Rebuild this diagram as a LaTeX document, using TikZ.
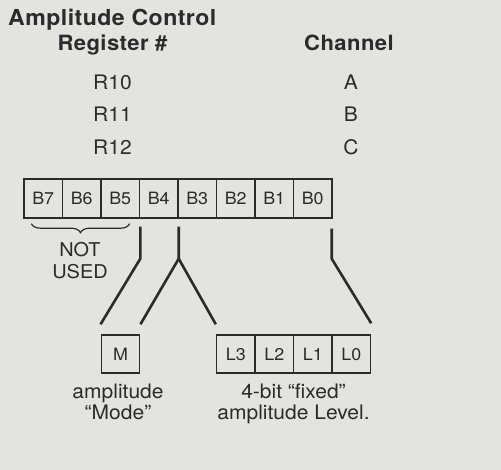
\documentclass[tikz,border=0pt]{standalone}
\usepackage{fontspec}
\setmainfont{TeX Gyre Heros}[FakeStretch=1.05]
\newfontfamily\headfont{texgyreheros-bold.otf}[FakeStretch=1.05,LetterSpace=2]
\usepackage{xcolor}
\usepackage{tikz}
\usetikzlibrary{positioning,calc,decorations.pathreplacing}
\definecolor{paper}{HTML}{E3E3DF}
\definecolor{ink}{HTML}{2B2B2B}

\begin{document}
\begin{tikzpicture}[
  x=1pt,y=-1pt,
  head/.style={font=\fontsize{21}{24}\headfont,text=ink,anchor=base,inner sep=0pt},
  txt/.style={font=\fontsize{20}{21}\selectfont,text=ink,inner sep=0pt,align=center,anchor=base},
  bitbox/.style={rectangle,draw=ink,line width=1.4pt,minimum width=38.5pt,minimum height=39pt,inner sep=0pt,font=\fontsize{17}{18}\selectfont,text=ink},
  wire/.style={draw=ink,line width=2.6pt}
]
\useasboundingbox[fill=paper] (0,0) rectangle (501,470);

% Headings
\node[head,anchor=base west,font=\fontsize{22}{24}\headfont] (title) at (8,26) {Amplitude Control};
\node[head] (reghd) at (112.5,51) {Register \#};
\node[head] (chhd)  at (349,51)   {Channel};

% Registers and channels
\foreach \r/\c [count=\k] in {R10/A,R11/B,R12/C}{
  \node[txt] (r\k) at (112.5,57+32.5*\k) {\r};
  \node[txt] (c\k) at (351,57+32.5*\k) {\c};
}

% Register bits
\foreach \i in {0,...,7}{
  \pgfmathtruncatemacro{\bit}{7-\i}
  \node[bitbox] (b\bit) at (24+38.5*\i+19.25,198.5) {B\bit};
}

% Mode and level bits
\node[bitbox,minimum height=38pt] (m) at (120.5,354) {M};
\foreach \i in {0,...,3}{
  \pgfmathtruncatemacro{\lev}{3-\i}
  \node[bitbox,minimum height=38pt] (l\lev) at (216.5+38.5*\i+19.25,354) {L\lev};
}

% Unused bits
\draw[draw=ink,line width=1.2pt,decorate,decoration={brace,mirror,amplitude=9pt}]
  ([xshift=8pt,yshift=-5pt]b7.south west) -- ([xshift=-10.5pt,yshift=-5pt]b5.south east);
\node[txt,font=\fontsize{19}{22}\selectfont] (unused) at (80,279) {NOT\\USED};

% Wires
\draw[wire] ([xshift=1.5pt,yshift=-8pt]b4.south west) -- ([xshift=1.5pt,yshift=-40pt]b4.south west)
  -- ([yshift=10pt]m.north west);
\draw[wire] ([yshift=-8pt]b4.south east) -- ([yshift=-40pt]b4.south east) coordinate (fork)
  -- ([yshift=10pt]m.north east);
\draw[wire] (fork) -- ([yshift=10pt]l3.north west);
\draw[wire] ([xshift=-1pt,yshift=-10pt]b0.south east) -- ([xshift=-1pt,yshift=-40pt]b0.south east)
  -- ([yshift=11pt]l0.north east);

% Captions
\node[txt] (mode)  at (118,420) {amplitude\\``Mode''};
\node[txt] (level) at (293.5,420) {4-bit ``fixed''\\amplitude Level.};

\end{tikzpicture}
\end{document}
